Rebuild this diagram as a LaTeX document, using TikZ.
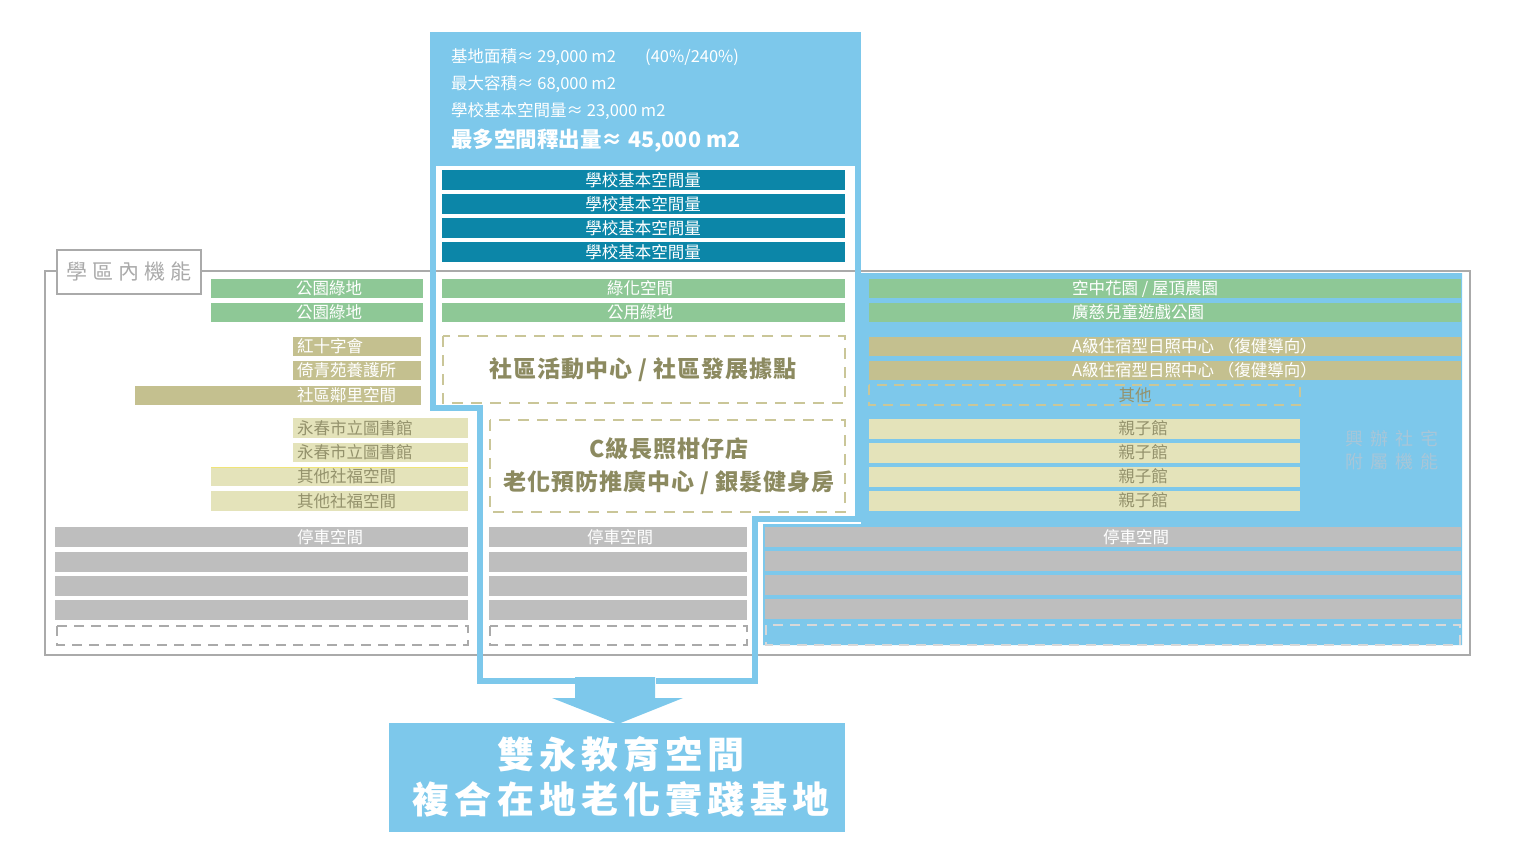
\documentclass[tikz,border=0pt]{standalone}
\usepackage{fontspec}
\setmainfont{Noto Sans CJK TC}

\definecolor{skyblue}{RGB}{125,200,235}
\definecolor{schoolteal}{RGB}{12,134,168}
\definecolor{parkgreen}{RGB}{142,200,150}
\definecolor{khaki}{RGB}{196,192,143}
\definecolor{beige}{RGB}{228,227,186}
\definecolor{parkgrey}{RGB}{190,190,190}
\definecolor{olivetxt}{RGB}{148,146,108}
\definecolor{boldolive}{RGB}{140,138,96}
\definecolor{dashol}{RGB}{202,198,152}
\definecolor{framegrey}{RGB}{170,170,170}
\definecolor{faint}{RGB}{168,198,216}
\definecolor{lineyellow}{RGB}{240,228,120}

\begin{document}
\begin{tikzpicture}[x=1pt, y=-1pt,
  wtxt/.style={inner sep=0, text=white, font=\fontsize{16.5}{18}\selectfont, text height=13.2pt, text depth=1pt},
  otxt/.style={wtxt, text=olivetxt},
  btxt/.style={inner sep=0, text=boldolive, font=\bfseries\fontsize{23}{26}\selectfont\addfontfeatures{LetterSpace=4}, text height=18pt, text depth=1pt},
  dashbox/.style={draw=dashol, line width=2.5pt, dash pattern=on 11pt off 8pt},
  greybox/.style={draw=framegrey, line width=2pt, dash pattern=on 10pt off 7pt},
  outline/.style={draw=skyblue, line width=6pt, line join=miter}]
  \useasboundingbox (0,0) rectangle (1517,867);

  % District frame
  \draw[framegrey, line width=2pt] (45,271) rectangle (1470,655);

  % Right block, blue ground
  \fill[skyblue] (861,273) -- (1462,273) -- (1462,645) -- (763,645) -- (763,524) -- (861,524) -- cycle;

  % Site figures
  \fill[skyblue] (430,32) rectangle (861,166);
  \node[wtxt, anchor=west] (site) at (451,56) {基地面積≈ 29,000 m2};
  \node[wtxt, anchor=west] (ratio) at (645,56) {(40\%/240\%)};
  \node[wtxt, anchor=west] (far) at (451,83) {最大容積≈ 68,000 m2};
  \node[wtxt, anchor=west] (base) at (451,110) {學校基本空間量≈ 23,000 m2};
  \node[wtxt, anchor=west, font=\bfseries\fontsize{21.5}{24}\selectfont, text height=17pt] (free) at (451,139) {最多空間釋出量≈ 45,000 m2};

  % School floors
  \foreach \y [count=\i] in {170,194,218,242} {
    \fill[schoolteal] (442,\y) rectangle (845,\y+20);
    \node[wtxt] (school\i) at (643,\y+10) {學校基本空間量};
  }

  % Left column
  \foreach \y [count=\i] in {279,303} {
    \fill[parkgreen] (211,\y) rectangle (423,\y+19);
    \node[wtxt, anchor=west] (lgreen\i) at (296,\y+9.5) {公園綠地};
  }
  \fill[khaki] (293,337) rectangle (421,356);
  \fill[khaki] (293,361) rectangle (421,380);
  \fill[khaki] (135,386) rectangle (421,405);
  \node[wtxt, anchor=west] (redcross) at (297,346.5) {紅十字會};
  \node[wtxt, anchor=west] (nursing) at (297,370.5) {倚青苑養護所};
  \node[wtxt, anchor=west] (neighbour) at (297,395.5) {社區鄰里空間};
  \fill[beige] (293,418) rectangle (468,438);
  \fill[beige] (293,443) rectangle (468,462);
  \fill[beige] (211,467) rectangle (468,486);
  \fill[beige] (211,491) rectangle (468,511);
  \draw[lineyellow, line width=1pt] (211,467) -- (468,467);
  \node[otxt, anchor=west] (library1) at (297,428) {永春市立圖書館};
  \node[otxt, anchor=west] (library2) at (297,452.5) {永春市立圖書館};
  \node[otxt, anchor=west] (welfare1) at (297,476.5) {其他社福空間};
  \node[otxt, anchor=west] (welfare2) at (297,501) {其他社福空間};
  \foreach \y in {527,552,576,600}
    \fill[parkgrey] (55,\y) rectangle (468,\y+20);
  \node[wtxt, anchor=west] (lparking) at (297,537) {停車空間};
  \draw[greybox] (57,626) rectangle (468,645);

  % Middle column
  \fill[parkgreen] (442,279) rectangle (845,298);
  \fill[parkgreen] (442,303) rectangle (845,322);
  \node[wtxt] (greening) at (640,288.5) {綠化空間};
  \node[wtxt] (pubgreen) at (640,312.5) {公用綠地};
  \draw[dashbox] (443,336) rectangle (845,403);
  \node[btxt] (community) at (643,369) {社區活動中心 / 社區發展據點};
  \draw[dashbox] (490,420) rectangle (845,512);
  \node[btxt] (cshop) at (669,449) {C級長照柑仔店};
  \node[btxt] (prevent) at (669,482) {老化預防推廣中心 / 銀髮健身房};
  \foreach \y in {527,552,576,600}
    \fill[parkgrey] (489,\y) rectangle (747,\y+20);
  \node[wtxt] (mparking) at (620,537) {停車空間};
  \draw[greybox] (490,626) rectangle (747,645);

  % Right column
  \fill[parkgreen] (869,279) rectangle (1461,298);
  \fill[parkgreen] (869,303) rectangle (1461,322);
  \node[wtxt, anchor=west] (roof) at (1072,288.5) {空中花園 / 屋頂農園};
  \node[wtxt, anchor=west] (playpark) at (1072,312.5) {廣慈兒童遊戲公園};
  \foreach \y [count=\i] in {337,361} {
    \fill[khaki] (869,\y) rectangle (1461,\y+19);
    \node[wtxt, anchor=west] (daycare\i) at (1072,\y+9.5) {A級住宿型日照中心 （復健導向）};
  }
  \draw[dashbox, line width=2pt, dash pattern=on 10pt off 7pt] (869,385) rectangle (1300,405);
  \node[otxt] (other) at (1135,395) {其他};
  \foreach \y [count=\i] in {419,443,467,491} {
    \fill[beige] (869,\y) rectangle (1300,\y+19.5);
    \node[otxt] (family\i) at (1143,\y+9.5) {親子館};
  }
  \node[inner sep=0, text=faint, font=\fontsize{18}{20}\selectfont\addfontfeatures{LetterSpace=38}] (housing1) at (1392,439) {興辦社宅};
  \node[inner sep=0, text=faint, font=\fontsize{18}{20}\selectfont\addfontfeatures{LetterSpace=38}] (housing2) at (1392,462) {附屬機能};
  \foreach \y in {527,551,575,599}
    \fill[parkgrey] (765,\y) rectangle (1461,\y+20);
  \node[wtxt] (rparking) at (1136,537) {停車空間};
  \draw[greybox, draw=parkgrey!60!white] (766,625) rectangle (1460,645);

  % Released space outline
  \draw[outline] (433,163) -- (433,408) -- (480,408) -- (480,681) -- (576,681);
  \draw[outline] (656,681) -- (755,681) -- (755,519) -- (858,519) -- (858,163);

  % Frame label
  \node[draw=framegrey, line width=1.5pt, fill=white, minimum width=144, minimum height=44, anchor=north west, inner sep=0,
        text=framegrey, font=\fontsize{21}{24}\selectfont\addfontfeatures{LetterSpace=24}] (district) at (56,249) {學區內機能};

  % Result
  \fill[skyblue] (575,677) -- (655,677) -- (655,698) -- (683,698) -- (618,724) -- (552,698) -- (575,698) -- cycle;
  \node[fill=skyblue, minimum width=456, minimum height=109, anchor=north west, inner sep=0] (goal) at (389,723) {};
  \node[inner sep=0, text=white, font=\bfseries\fontsize{37}{40}\selectfont\addfontfeatures{LetterSpace=14}] (goal1) at (621,754) {雙永教育空間};
  \node[inner sep=0, text=white, font=\bfseries\fontsize{37}{40}\selectfont\addfontfeatures{LetterSpace=14}] (goal2) at (621,799) {複合在地老化實踐基地};
\end{tikzpicture}
\end{document}
